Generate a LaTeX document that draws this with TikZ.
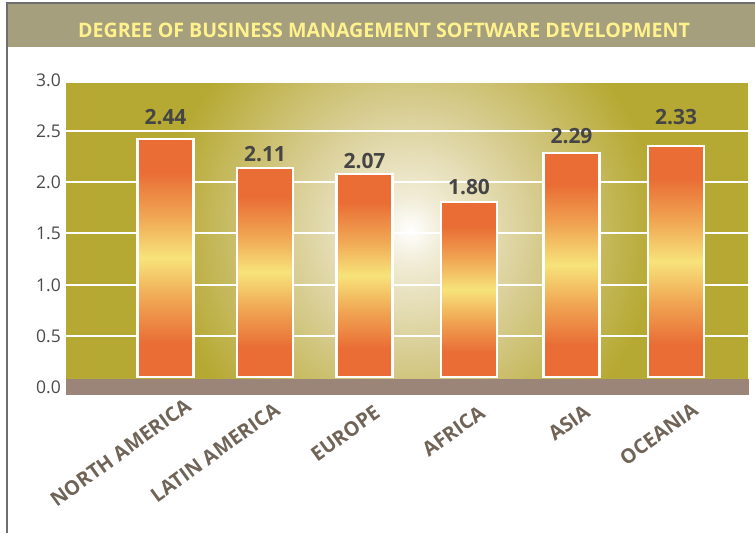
\documentclass[tikz,border=0pt]{standalone}
\usepackage{fontspec}
\setmainfont{Open Sans}
\usetikzlibrary{positioning}

\definecolor{bandgray}{HTML}{A59F7E}
\definecolor{titleyellow}{HTML}{FFF28C}
\definecolor{framegray}{HTML}{6E6E6E}
\definecolor{plotolive}{HTML}{B6A933}
\definecolor{glowcream}{HTML}{F1ECD6}
\definecolor{glowsand}{HTML}{D8CD92}
\definecolor{floorbrown}{HTML}{9B8578}
\definecolor{barorange}{HTML}{E96D35}
\definecolor{barmid}{HTML}{F0A452}
\definecolor{baryellow}{HTML}{F7E37A}
\definecolor{labelbrown}{HTML}{6F6457}
\definecolor{valuegray}{HTML}{454545}
\definecolor{axisgray}{HTML}{4A4A4A}

% orange bars with a yellow glow in the middle
\pgfdeclareverticalshading{barglow}{100bp}{color(0bp)=(barorange); color(32bp)=(barorange);
  color(41bp)=(barmid); color(50bp)=(baryellow); color(59bp)=(barmid);
  color(68bp)=(barorange); color(100bp)=(barorange)}
% light spot behind the bars
\pgfdeclareradialshading{plotglow}{\pgfpoint{0bp}{0bp}}{color(0bp)=(white); color(3bp)=(glowcream);
  color(11bp)=(glowsand); color(22bp)=(plotolive); color(50bp)=(plotolive)}

\begin{document}
\begin{tikzpicture}[
    x = 1pt, y = -1pt, % one unit per pixel, y going down
    gridline/.style = {draw = white, line width = 2.4pt},
    bar/.style = {draw = white, line width = 2.2pt, shading = barglow,
        anchor = south, minimum width = 56pt, inner sep = 0pt},
    value/.style = {font = \bfseries\fontsize{21}{21}\selectfont, text = valuegray},
    tick/.style = {anchor = east, inner sep = 0pt,
        font = \fontsize{17.5}{17.5}\selectfont, text = axisgray},
    region/.style = {anchor = north east, inner sep = 0pt, rotate = 36,
        font = \bfseries\fontsize{20}{20}\selectfont, text = labelbrown}
    ]
    \useasboundingbox (0,0) rectangle (755,533);

    % title band and frame
    \fill[bandgray] (8,4) rectangle (755,47);
    \draw[framegray, line width = 2.2pt] (755,3) -- (7,3) -- (7,533);
    \node[font = \bfseries\fontsize{20}{20}\selectfont, text = titleyellow, xscale = 0.98] (T)
        at (384,30) {DEGREE OF BUSINESS MANAGEMENT SOFTWARE DEVELOPMENT};

    % plot area
    \fill[plotolive] (66,83) rectangle (748,379);
    \begin{scope}
        \clip (66,83) rectangle (748,379);
        \shade[shading = plotglow] (130,-50) rectangle (690,510);
    \end{scope}
    \fill[floorbrown] (66,379) rectangle (749,395);

    \draw[gridline] (66,131) -- (748,131);
    \draw[gridline] (66,182) -- (748,182);
    \draw[gridline] (66,233) -- (748,233);
    \draw[gridline] (66,285) -- (748,285);
    \draw[gridline] (66,336) -- (748,336);

    % axis values
    \node[tick] (y30) at (61,80) {3.0};
    \node[tick] (y25) at (61,131) {2.5};
    \node[tick] (y20) at (61,182) {2.0};
    \node[tick] (y15) at (61,233) {1.5};
    \node[tick] (y10) at (61,285) {1.0};
    \node[tick] (y05) at (61,336) {0.5};
    \node[tick] (y00) at (61,387) {0.0};

    % bars
    \node[bar, minimum height = 238pt] (NA) at (165.5,378) {};
    \node[bar, minimum height = 209pt] (LA) at (265,378) {};
    \node[bar, minimum height = 203pt] (EU) at (364.5,378) {};
    \node[bar, minimum height = 175pt] (AF) at (469,378) {};
    \node[bar, minimum height = 224pt] (AS) at (571.5,378) {};
    \node[bar, minimum height = 231pt] (OC) at (676,378) {};

    \node[value] (vNA) at (165.5,117) {2.44};
    \node[value] (vLA) at (265,154) {2.11};
    \node[value] (vEU) at (364.5,161) {2.07};
    \node[value] (vAF) at (469,187) {1.80};
    \node[value] (vAS) at (571.5,136) {2.29};
    \node[value] (vOC) at (676,117) {2.33};

    % region names
    \node[region] (nNA) at (184,397) {NORTH AMERICA};
    \node[region] (nLA) at (273,401) {LATIN AMERICA};
    \node[region] (nEU) at (373,404) {EUROPE};
    \node[region] (nAF) at (478,404) {AFRICA};
    \node[region] (nAS) at (583,403) {ASIA};
    \node[region] (nOC) at (691,401) {OCEANIA};
\end{tikzpicture}
\end{document}
